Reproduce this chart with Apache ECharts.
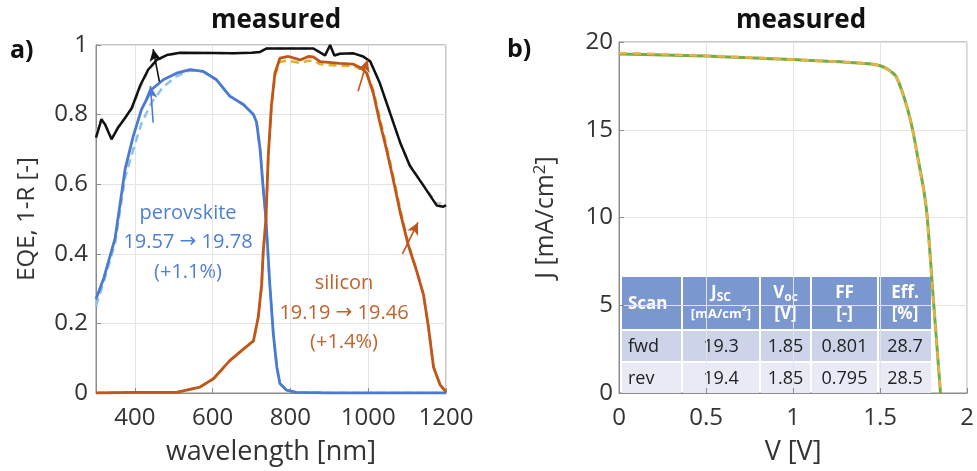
<!DOCTYPE html>
<html>
<head>
<meta charset="utf-8">
<script src="https://cdn.jsdelivr.net/npm/echarts@6.0.0/dist/echarts.min.js"></script>
<style>
  html, body { margin: 0; padding: 0; background: #fff; }
  #chart { width: 977px; height: 471px; }
</style>
</head>
<body>
<div id="chart"></div>
<script>
// ---- panel a) EQE / 1-R vs wavelength ----
const blackWl  = [300, 314, 323, 340, 357, 375, 392, 413, 434, 456, 482, 516, 600, 653, 700, 722, 739, 780, 825, 859, 889, 902, 913, 927, 962, 987, 1005, 1030, 1056, 1082, 1107, 1142, 1176, 1193, 1200]
const blackVal = [0.734, 0.786, 0.772, 0.729, 0.763, 0.791, 0.819, 0.882, 0.929, 0.957, 0.971, 0.978, 0.977, 0.976, 0.978, 0.98, 0.99, 0.99, 0.99, 0.99, 0.97, 1.0, 0.97, 0.975, 0.976, 0.967, 0.953, 0.89, 0.805, 0.72, 0.653, 0.596, 0.539, 0.535, 0.54]
const blackDashVal = [0.745, 0.79, 0.775, 0.732, 0.765, 0.79, 0.815, 0.875, 0.925, 0.955, 0.97, 0.977, 0.977, 0.976, 0.978, 0.98, 0.99, 0.99, 0.99, 0.99, 0.97, 0.995, 0.97, 0.975, 0.976, 0.967, 0.953, 0.89, 0.805, 0.72, 0.655, 0.598, 0.545, 0.545, 0.55]

const pvkWl  = [300, 320, 349, 375, 396, 417, 443, 473, 507, 542, 576, 610, 644, 679, 705, 713, 722, 730, 737, 747, 756, 765, 773, 790, 815, 900, 1000, 1100, 1200]
const pvkVal = [0.27, 0.33, 0.444, 0.644, 0.739, 0.815, 0.872, 0.90, 0.919, 0.929, 0.924, 0.90, 0.853, 0.829, 0.80, 0.777, 0.70, 0.587, 0.50, 0.311, 0.169, 0.074, 0.027, 0.008, 0.002, 0, 0, 0, 0]
const pvkDashVal = [0.25, 0.32, 0.43, 0.62, 0.70, 0.775, 0.835, 0.88, 0.91, 0.927, 0.924, 0.90, 0.853, 0.829, 0.80, 0.777, 0.70, 0.587, 0.50, 0.311, 0.169, 0.074, 0.027, 0.008, 0.002, 0, 0, 0, 0]

const siWl  = [300, 400, 507, 533, 567, 602, 644, 679, 705, 717, 726, 730, 737, 743, 751, 760, 773, 795, 825, 846, 859, 876, 927, 962, 983, 996, 1013, 1030, 1047, 1064, 1082, 1103, 1125, 1142, 1155, 1168, 1185, 1200]
const siVal = [0, 0.002, 0.002, 0.008, 0.017, 0.041, 0.093, 0.126, 0.15, 0.217, 0.311, 0.406, 0.50, 0.682, 0.825, 0.919, 0.962, 0.967, 0.957, 0.967, 0.966, 0.952, 0.947, 0.945, 0.933, 0.919, 0.862, 0.777, 0.70, 0.615, 0.52, 0.425, 0.349, 0.283, 0.188, 0.074, 0.023, 0.003]
const siDashVal = [0, 0.002, 0.002, 0.008, 0.017, 0.041, 0.093, 0.126, 0.15, 0.217, 0.311, 0.406, 0.50, 0.68, 0.82, 0.91, 0.952, 0.955, 0.948, 0.955, 0.955, 0.945, 0.94, 0.94, 0.93, 0.92, 0.87, 0.79, 0.71, 0.625, 0.53, 0.43, 0.35, 0.283, 0.188, 0.074, 0.023, 0.003]

// arrows [from, to] in data units
const arrowBlack = [[463, 0.895], [447, 0.988]]
const arrowPvk = [[447, 0.777], [440, 0.882]]
const arrowSi = [[[974, 0.867], [998, 0.957]], [[1088, 0.40], [1128, 0.49]]]

const wlTicks = [400, 600, 800, 1000, 1200]
const pvkNote = ['perovskite', '19.57 {a|\u2192} 19.78', '(+1.1%)']
const siNote = ['silicon', '19.19 {a|\u2192} 19.46', '(+1.4%)']

// ---- panel b) J-V ----
const jvV   = [0, 0.25, 0.5, 0.75, 1.0, 1.2, 1.35, 1.45, 1.5, 1.535, 1.565, 1.592, 1.63, 1.659, 1.687, 1.715, 1.734, 1.755, 1.77, 1.787, 1.807, 1.827, 1.847]
const jvFwd = [19.32, 19.26, 19.2, 19.1, 19.0, 18.9, 18.82, 18.74, 18.65, 18.5, 18.3, 18.03, 17.08, 16.14, 15.0, 13.5, 12.5, 11.3, 10.1, 7.9, 5.2, 2.6, 0]
const jvRev = [19.38, 19.3, 19.22, 19.12, 19.0, 18.9, 18.82, 18.74, 18.64, 18.48, 18.28, 18.0, 17.05, 16.1, 14.95, 13.45, 12.45, 11.25, 10.05, 7.85, 5.15, 2.55, 0]

const tableHeader = [
  '{b|Scan}',
  '{b|J}{bs|SC}\n{u|[mA/cm}{us|2}{u|]}',
  '{b|V}{bs|oc}\n{b|[V]}',
  '{b|FF}\n{b|[-]}',
  '{b|Eff.}\n{b|[%]}'
]
const tableRows = [
  ['fwd', '19.3', '1.85', '0.801', '28.7'],
  ['rev', '19.4', '1.85', '0.795', '28.5']
]

const FONT = '"Open Sans", "Noto Sans", sans-serif'
const zip = (xs, ys) => xs.map((x, i) => [x, ys[i]])

const chart = echarts.init(document.getElementById('chart'))

const axisCommon = {
  axisLine: { show: true, lineStyle: { color: '#8c8c8c', width: 1 } },
  axisTick: { inside: true, length: 5, lineStyle: { color: '#8c8c8c' } },
  splitLine: { show: true, lineStyle: { color: '#e4e4e4', width: 1 } },
  nameLocation: 'middle',
  nameTextStyle: { fontSize: 27, color: '#333', fontFamily: FONT }
}
const labelCommon = { fontSize: 24, color: '#333', fontFamily: FONT, formatter: v => String(v) }

const arrowLine = (pairs, color) => ({
  silent: true,
  symbol: ['none', 'arrow'],
  symbolSize: [9, 12],
  label: { show: false },
  lineStyle: { color: color, width: 1.6, type: 'solid' },
  data: pairs.map(p => [{ coord: p[0] }, { coord: p[1] }])
})

// table built from graphic rectangles
const colEdges = [621, 682, 760, 811, 878, 932]
const rowEdges = [276, 330, 362, 394]
const tableEls = []
const rowFill = ['#7b97cf', '#cdd3e9', '#e8ebf5']
for (let r = 0; r < 3; r++) {
  for (let c = 0; c < 5; c++) {
    const x0 = colEdges[c], x1 = colEdges[c + 1]
    const y0 = rowEdges[r], y1 = rowEdges[r + 1]
    tableEls.push({
      type: 'rect',
      shape: { x: x0 + 1, y: y0 + 1, width: x1 - x0 - 2, height: y1 - y0 - 2 },
      style: { fill: rowFill[r] }
    })
    const txt = r === 0 ? tableHeader[c] : tableRows[r - 1][c]
    tableEls.push({
      type: 'text',
      x: c === 0 ? x0 + 7 : (x0 + x1) / 2,
      y: (y0 + y1) / 2 + 1,
      style: {
        text: txt,
        align: c === 0 ? 'left' : 'center',
        verticalAlign: 'middle',
        fill: r === 0 ? '#fff' : '#222',
        font: '18px ' + FONT,
        rich: {
          b: { fontSize: 17, fontWeight: 'bold', fill: '#fff', fontFamily: FONT, lineHeight: 21 },
          bs: { fontSize: 12, fontWeight: 'bold', fill: '#fff', fontFamily: FONT, verticalAlign: 'bottom', lineHeight: 21 },
          u: { fontSize: 13, fontWeight: 'bold', fill: '#fff', fontFamily: FONT, lineHeight: 21 },
          us: { fontSize: 9, fontWeight: 'bold', fill: '#fff', fontFamily: FONT, verticalAlign: 'top', lineHeight: 21 }
        }
      }
    })
  }
}

const noteEls = (lines, cx, ys, color) => lines.map((t, i) => ({
  type: 'text',
  x: cx,
  y: ys[i],
  style: {
    text: t, align: 'center', verticalAlign: 'middle', fill: color, font: '20px ' + FONT,
    rich: { a: { fontFamily: '"DejaVu Sans"', fontSize: 20, fill: color } }
  }
}))

const option = {
  animation: false,
  backgroundColor: '#fff',
  title: [
    { text: 'measured', left: 271, top: 3, textAlign: 'center', textStyle: { fontSize: 26, fontWeight: 'bold', color: '#111', fontFamily: FONT } },
    { text: 'measured', left: 796, top: 3, textAlign: 'center', textStyle: { fontSize: 26, fontWeight: 'bold', color: '#111', fontFamily: FONT } }
  ],
  grid: [
    { left: 96, right: 531, top: 45, bottom: 75, show: true, borderColor: '#8c8c8c', borderWidth: 1 },
    { left: 619, right: 5, top: 42, bottom: 77, show: true, borderColor: '#8c8c8c', borderWidth: 1 }
  ],
  xAxis: [
    Object.assign({}, axisCommon, {
      gridIndex: 0, type: 'value', min: 300, max: 1200,
      name: 'wavelength [nm]', nameGap: 46,
      axisTick: Object.assign({}, axisCommon.axisTick, { customValues: wlTicks }),
      axisLabel: Object.assign({}, labelCommon, { customValues: wlTicks, margin: 13 })
    }),
    Object.assign({}, axisCommon, {
      gridIndex: 1, type: 'value', min: 0, max: 2, interval: 0.5,
      name: 'V [V]', nameGap: 46,
      axisLabel: Object.assign({}, labelCommon, { margin: 13 })
    })
  ],
  yAxis: [
    Object.assign({}, axisCommon, {
      gridIndex: 0, type: 'value', min: 0, max: 1, interval: 0.2,
      name: 'EQE, 1-R [-]', nameGap: 57,
      nameTextStyle: Object.assign({}, axisCommon.nameTextStyle, { fontSize: 24 }),
      axisLabel: Object.assign({}, labelCommon, { margin: 8 })
    }),
    Object.assign({}, axisCommon, {
      gridIndex: 1, type: 'value', min: 0, max: 20, interval: 5,
      name: 'J [mA/cm{sup|2}]', nameGap: 60,
      nameTextStyle: Object.assign({}, axisCommon.nameTextStyle, {
        fontSize: 25,
        rich: { sup: { fontSize: 17, verticalAlign: 'top', color: '#333', fontFamily: FONT, padding: [0, 0, 10, 0] } }
      }),
      axisLabel: Object.assign({}, labelCommon, { margin: 6 })
    })
  ],
  series: [
    { type: 'line', xAxisIndex: 0, yAxisIndex: 0, showSymbol: false, data: zip(blackWl, blackDashVal),
      lineStyle: { color: '#c8c8c8', width: 2.5, type: [7, 5] }, z: 2 },
    { type: 'line', xAxisIndex: 0, yAxisIndex: 0, showSymbol: false, data: zip(blackWl, blackVal),
      lineStyle: { color: '#111', width: 2.5 }, z: 3, markLine: arrowLine([arrowBlack], '#111') },
    { type: 'line', xAxisIndex: 0, yAxisIndex: 0, showSymbol: false, data: zip(pvkWl, pvkDashVal),
      lineStyle: { color: '#8fc0ee', width: 2.5, type: [8, 5] }, z: 2 },
    { type: 'line', xAxisIndex: 0, yAxisIndex: 0, showSymbol: false, data: zip(pvkWl, pvkVal),
      lineStyle: { color: '#4a7bd0', width: 2.8 }, z: 3, markLine: arrowLine([arrowPvk], '#4a7bd0') },
    { type: 'line', xAxisIndex: 0, yAxisIndex: 0, showSymbol: false, data: zip(siWl, siDashVal),
      lineStyle: { color: '#e0b22e', width: 2.5, type: [8, 5] }, z: 2 },
    { type: 'line', xAxisIndex: 0, yAxisIndex: 0, showSymbol: false, data: zip(siWl, siVal),
      lineStyle: { color: '#c0561c', width: 2.8 }, z: 3, markLine: arrowLine(arrowSi, '#c0561c') },
    { type: 'line', xAxisIndex: 1, yAxisIndex: 1, showSymbol: false, smooth: 0.3, data: zip(jvV, jvFwd),
      lineStyle: { color: '#70ad47', width: 3 }, z: 3 },
    { type: 'line', xAxisIndex: 1, yAxisIndex: 1, showSymbol: false, smooth: 0.3, data: zip(jvV, jvRev),
      lineStyle: { color: '#f0b040', width: 2.5, type: [8, 6] }, z: 4 }
  ],
  graphic: [
    { type: 'text', x: 10, y: 38, style: { text: 'a)', fill: '#111', font: 'bold 25px ' + FONT } },
    { type: 'text', x: 507, y: 37, style: { text: 'b)', fill: '#111', font: 'bold 25px ' + FONT } }
  ]
    .concat(noteEls(pvkNote, 188, [213, 242, 272], '#4f7fd2'))
    .concat(noteEls(siNote, 344, [283, 313, 342], '#c0622b'))
    .concat([{ type: 'group', z: 100, children: tableEls }])
}

chart.setOption(option)
</script>
</body>
</html>
